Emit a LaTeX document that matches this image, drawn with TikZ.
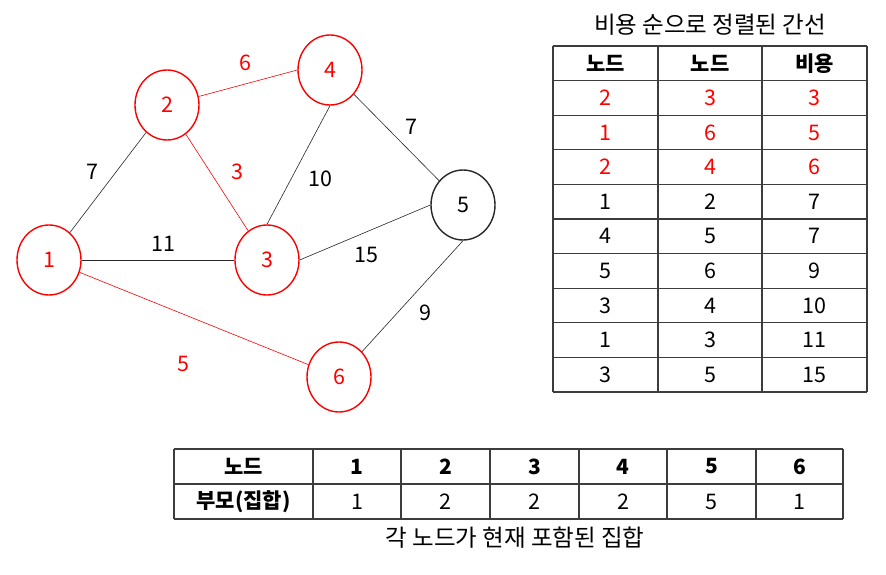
\documentclass[tikz,border=0pt]{standalone}
\usepackage{fontspec}
\setmainfont{Noto Sans CJK KR}
\usetikzlibrary{shapes.geometric}
\definecolor{kred}{RGB}{255,0,0}
\definecolor{kline}{RGB}{40,40,40}
\definecolor{kgrid}{RGB}{60,60,60}
\begin{document}
\begin{tikzpicture}[x=1pt,y=-1pt,
  vert/.style={ellipse, draw=kred, line width=1.4pt, minimum width=64pt, minimum height=70pt, inner sep=0pt, text=kred, font=\fontsize{21.5}{24}\selectfont},
  vblack/.style={vert, draw=kline, text=black},
  redge/.style={draw=kred, line width=0.6pt},
  bedge/.style={draw=kline, line width=0.6pt},
  wlab/.style={inner sep=0pt, font=\fontsize{21.5}{24}\selectfont},
  cell/.style={inner sep=0pt, font=\fontsize{21.5}{24}\selectfont},
  hcell/.style={inner sep=0pt, font=\fontsize{21}{24}\selectfont\bfseries},
  grid/.style={draw=kgrid, line width=1.3pt},
  caption/.style={inner sep=0pt, font=\fontsize{23.5}{28}\selectfont}]
\useasboundingbox[fill=white] (0,0) rectangle (886,575);

% graph vertices
\node[vert]   (v1) at (49,260)  {1};
\node[vert]   (v2) at (167,105) {2};
\node[vert]   (v3) at (267,260) {3};
\node[vert]   (v4) at (330,70)  {4};
\node[vblack] (v5) at (463,205) {5};
\node[vert]   (v6) at (339,377) {6};

% edges
\draw[bedge] (v1) -- (v2);
\draw[bedge] (v1.east) -- (v3.west);
\draw[redge] (v1) -- (v6);
\draw[redge] (v2) -- (v3);
\draw[redge] (v2) -- (v4.west);
\draw[bedge] (v3.north) -- (v4.south);
\draw[bedge] (v3.east) -- (v5.west);
\draw[bedge] (v4) -- (v5);
\draw[bedge] (v5.south) -- (v6);

% edge weights
\node[wlab, text=kred] (w24) at (245,63)  {6};
\node[wlab]            (w12) at (92,172)  {7};
\node[wlab, text=kred] (w23) at (237,172) {3};
\node[wlab]            (w34) at (320,179) {10};
\node[wlab]            (w45) at (411,127) {7};
\node[wlab]            (w13) at (163,244) {11};
\node[wlab]            (w35) at (366,255) {15};
\node[wlab]            (w56) at (425,313) {9};
\node[wlab, text=kred] (w16) at (183,364) {5};

% sorted edge table
\node[caption] (ttitle) at (710,25) {비용 순으로 정렬된 간선};
\foreach \k in {0,...,10} \draw[grid] (553,{46+34.6*\k}) -- (867,{46+34.6*\k});
\foreach \xx in {553,658,762,867} \draw[grid] (\xx,46) -- (\xx,392);
\node[hcell] (h1) at (605.5,63.3) {노드};
\node[hcell] (h2) at (710,63.3) {노드};
\node[hcell] (h3) at (814.5,63.3) {비용};
\foreach \r/\a/\b/\c/\col in {1/2/3/3/kred,2/1/6/5/kred,3/2/4/6/kred,4/1/2/7/black,5/4/5/7/black,6/5/6/9/black,7/3/4/10/black,8/1/3/11/black,9/3/5/15/black}{
  \node[cell, text=\col] (r\r a) at (605.5,{63.3+34.6*\r}) {\a};
  \node[cell, text=\col] (r\r b) at (710,{63.3+34.6*\r}) {\b};
  \node[cell, text=\col] (r\r c) at (814.5,{63.3+34.6*\r}) {\c};
}

% parent table
\foreach \yy in {449,484,519} \draw[grid] (174,\yy) -- (843,\yy);
\foreach \xx in {174,313,401,490,579,667,756,843} \draw[grid] (\xx,449) -- (\xx,519);
\node[hcell] (p0) at (243.5,466.5) {노드};
\node[hcell] (q0) at (243.5,501.5) {부모(집합)};
\foreach \i/\xx/\p in {1/357/1,2/445.5/2,3/534.5/2,4/623/2,5/711.5/5,6/799.5/1}{
  \node[hcell] (p\i) at (\xx,466.5) {\i};
  \node[cell]  (q\i) at (\xx,501.5) {\p};
}
\node[caption] (pcap) at (515,538) {각 노드가 현재 포함된 집합};
\end{tikzpicture}
\end{document}
